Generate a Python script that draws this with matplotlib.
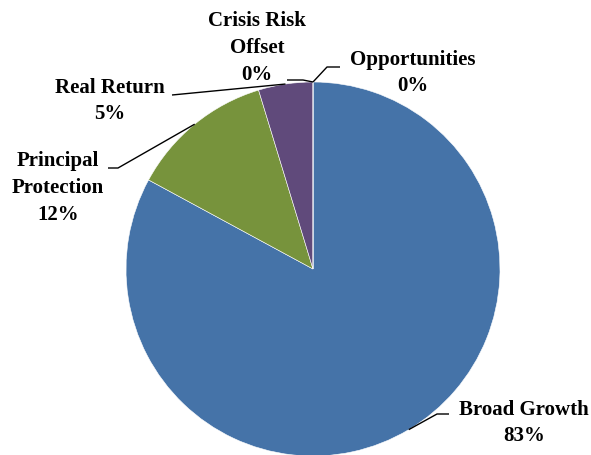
import numpy as np
import matplotlib.pyplot as plt

# Allocation by strategy (percent)
categories = ['Broad Growth', 'Principal\nProtection', 'Real Return', 'Crisis Risk\nOffset', 'Opportunities']
values = [82.9, 12.4, 4.7, 0.0, 0.0]
colors = ['#4573A8', '#77933C', '#604A7B', '#C0504D', '#F79646']

W, H = 591, 455
fig = plt.figure(figsize=(W / 100, H / 100), dpi=100)
ax = fig.add_axes([0, 0, 1, 1])

cx, cy, r = 313, H - 269, 187
wedges, _ = ax.pie(values, colors=colors, startangle=90, counterclock=False,
                   center=(cx, cy), radius=r, frame=True,
                   wedgeprops=dict(edgecolor='white', linewidth=0.4))
ax.set_xlim(0, W)
ax.set_ylim(0, H)
ax.axis('off')

# label text position (x, y from top) and leader line elbow points
label_pos = [(524, 423), (58, 188), (110, 101), (257, 48), (413, 73)]
elbows = [[(437, 414), (449, 414)],
          [(118, 168), (108, 168)],
          [(172, 95)],
          [(303, 80), (287, 80)],
          [(327, 67), (340, 67)]]

font = dict(family='Liberation Serif', weight='bold', fontsize=15)
for w, name, v, (lx, ly), elb in zip(wedges, categories, values, label_pos, elbows):
    mid = np.deg2rad((w.theta1 + w.theta2) / 2)
    ax_x = cx + r * np.cos(mid)
    ax_y = cy + r * np.sin(mid)
    xs = [ax_x] + [p[0] for p in elb]
    ys = [ax_y] + [H - p[1] for p in elb]
    ax.plot(xs, ys, color='black', linewidth=1, solid_capstyle='butt')
    ax.text(lx, H - ly, f'{name}\n{round(v)}%', ha='center', va='center',
            linespacing=1.45, **font)

fig.savefig('out.png', dpi=100)
